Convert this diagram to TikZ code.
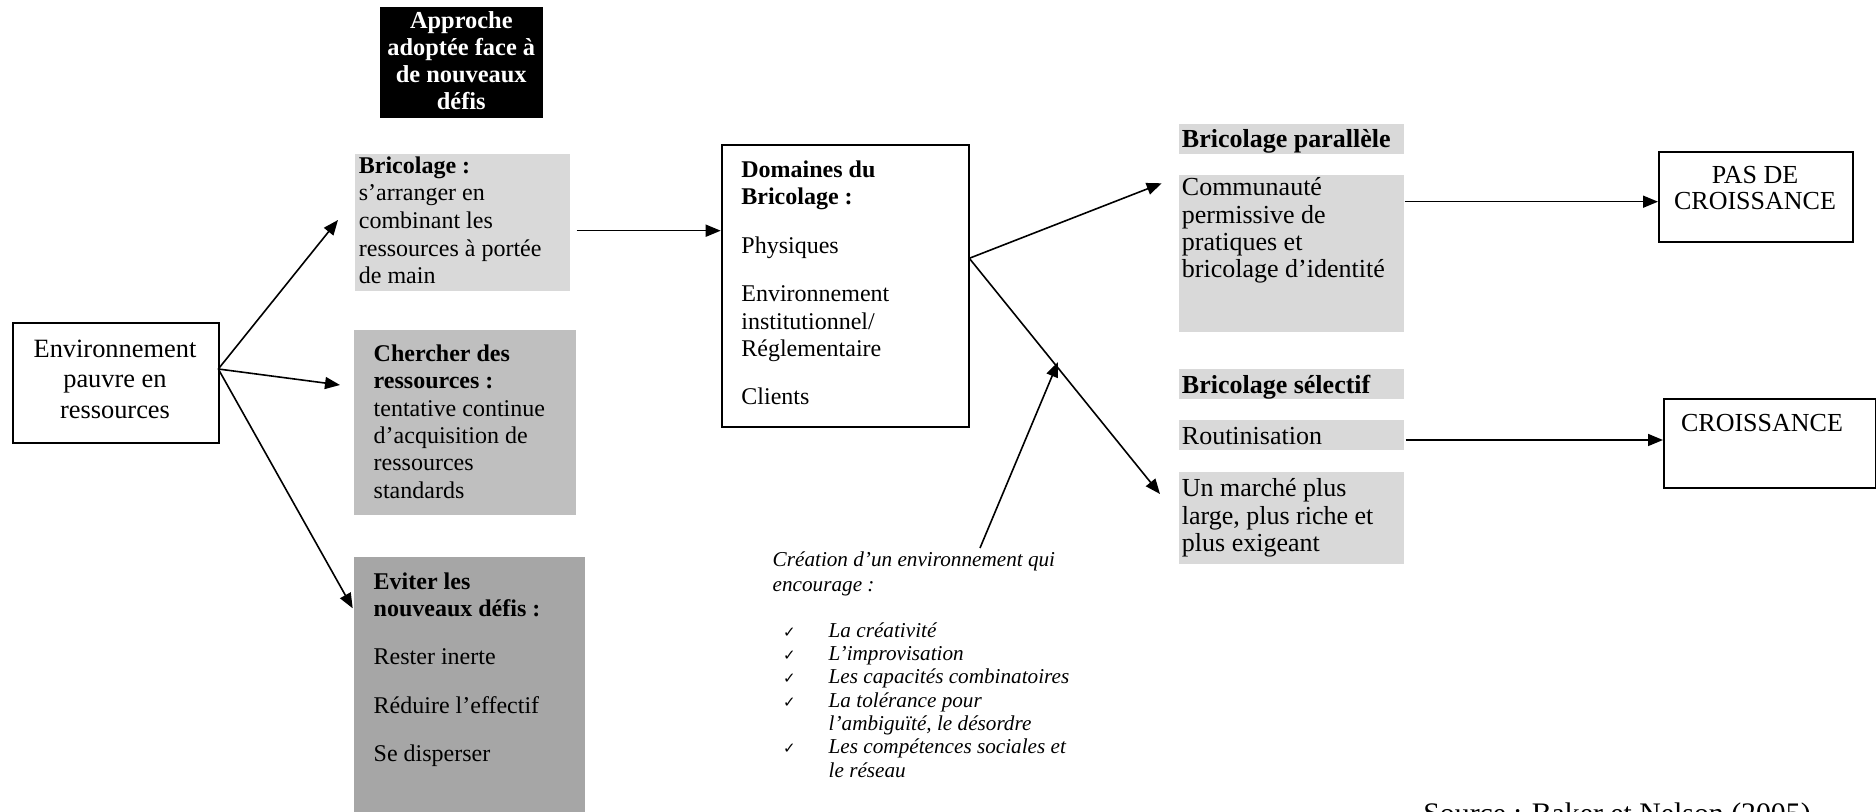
\documentclass[tikz,border=0pt]{standalone}
\usepackage{fontspec}
\setmainfont{Liberation Serif}
\newfontfamily\symfont{DejaVu Sans}
\usetikzlibrary{arrows.meta,calc}
\definecolor{gA}{HTML}{D9D9D9}
\definecolor{gB}{HTML}{BFBFBF}
\definecolor{gC}{HTML}{A6A6A6}
\begin{document}
\begin{tikzpicture}[x=0.5pt,y=-0.5pt,
  arr/.style={line width=0.8pt,-{Triangle[length=7.5pt,width=6pt]}},
  framebox/.style={draw,line width=1pt,fill=white,inner sep=0pt,anchor=north west},
  shadebox/.style={draw=none,inner sep=0pt,anchor=north west},
  medtxt/.style={font=\fontsize{12}{13.7}\selectfont,inner sep=0pt,align=left,anchor=base west},
  bigtxt/.style={font=\fontsize{13}{13.6}\selectfont,inner sep=0pt,align=left,anchor=base west},
  itxt/.style={font=\fontsize{10.6}{11.67}\selectfont\itshape,inner sep=0pt,align=left,anchor=base west}]
\useasboundingbox (0,0) rectangle (1876,812);
\clip (0,0) rectangle (1876,812);

% ---- boxes ----
\node[framebox,minimum width=103.3pt,minimum height=59.7pt] (env) at (11.7,322.3) {};
\node[shadebox,fill=black,minimum width=81.35pt,minimum height=55.3pt] (appr) at (380,6.7) {};
\node[shadebox,fill=gA,minimum width=107.85pt,minimum height=68.5pt] (bric) at (354.3,153.3) {};
\node[shadebox,fill=gB,minimum width=111pt,minimum height=92.85pt] (cher) at (354,329.3) {};
\node[shadebox,fill=gC,minimum width=115.5pt,minimum height=140pt] (evit) at (354,556.7) {};
\node[framebox,minimum width=123.8pt,minimum height=140.85pt] (dom) at (720.7,144) {};
\node[shadebox,fill=gA,minimum width=112.5pt,minimum height=15.35pt] (parh) at (1178.7,123.3) {};
\node[shadebox,fill=gA,minimum width=112.5pt,minimum height=78.35pt] (com) at (1178.7,175) {};
\node[shadebox,fill=gA,minimum width=112.5pt,minimum height=15pt] (selh) at (1178.7,368.3) {};
\node[shadebox,fill=gA,minimum width=112.5pt,minimum height=15pt] (rout) at (1178.7,420) {};
\node[shadebox,fill=gA,minimum width=112.5pt,minimum height=45.8pt] (marc) at (1178.7,471.7) {};
\node[framebox,minimum width=97pt,minimum height=45pt] (pas) at (1658,150.7) {};
\node[framebox,minimum width=105.75pt,minimum height=44.5pt] (croi) at (1663,397.7) {};

% ---- texts (base anchor = last line baseline) ----
\node[font=\fontsize{13.2}{15.25}\selectfont,inner sep=0pt,align=center,anchor=base] (envt) at (115,418.3)
  {Environnement\\pauvre en\\ressources};
\node[font=\fontsize{12.2}{13.5}\selectfont\bfseries,text=white,inner sep=0pt,align=center,anchor=base] (apprt) at (461.3,110)
  {Approche\\adoptée face à\\de nouveaux\\défis};
\node[medtxt,font=\fontsize{12}{13.85}\selectfont] (brict) at (358.5,284)
  {\textbf{Bricolage :}\\s’arranger en\\combinant les\\ressources à portée\\de main};
\node[medtxt] (chert) at (373.3,498.3)
  {\textbf{Chercher des}\\\textbf{ressources :}\\tentative continue\\d’acquisition de\\ressources\\standards};
\node[medtxt] (evitt) at (373.3,761.7)
  {\textbf{Eviter les}\\\textbf{nouveaux défis :}\\[10.5pt]Rester inerte\\[10.5pt]Réduire l’effectif\\[10.5pt]Se disperser};
\node[medtxt] (domt) at (741,405)
  {\textbf{Domaines du}\\\textbf{Bricolage :}\\[10.5pt]Physiques\\[10.5pt]Environnement\\institutionnel/\\Réglementaire\\[10.5pt]Clients};
\node[bigtxt,font=\fontsize{13}{13.6}\selectfont\bfseries] (parht) at (1181.5,148) {Bricolage parallèle};
\node[bigtxt] (comt) at (1181.5,277.5)
  {Communauté\\permissive de\\pratiques et\\bricolage d’identité};
\node[bigtxt,font=\fontsize{13}{13.6}\selectfont\bfseries] (selht) at (1181.5,393.3) {Bricolage sélectif};
\node[bigtxt] (routt) at (1181.5,445) {Routinisation};
\node[bigtxt] (marct) at (1181.5,551.3)
  {Un marché plus\\large, plus riche et\\plus exigeant};
\node[font=\fontsize{13}{13.35}\selectfont,inner sep=0pt,align=center,anchor=base] (past) at (1755,210)
  {PAS DE\\CROISSANCE};
\node[font=\fontsize{13}{13.35}\selectfont,inner sep=0pt,align=center,anchor=base] (croit) at (1762,431.7)
  {CROISSANCE};
\node[itxt,font=\fontsize{10.6}{12.5}\selectfont\itshape] (creat) at (772.3,591.7)
  {Création d’un environnement qui\\encourage :};
\node[font=\fontsize{7.5}{11.67}\selectfont\symfont,inner sep=0pt,align=left,anchor=base west] (checks) at (782.7,754)
  {✓\\✓\\✓\\✓\\[11.67pt]✓};
\node[itxt] (listt) at (828.3,777.3)
  {La créativité\\L’improvisation\\Les capacités combinatoires\\La tolérance pour\\l’ambiguïté, le désordre\\Les compétences sociales et\\le réseau};
\node[font=\fontsize{14.9}{16}\selectfont,inner sep=0pt,anchor=base west] (src) at (1423,823)
  {Source : Baker et Nelson (2005)};

% ---- connectors ----
\coordinate (envout) at (218.3,369);
\coordinate (tipbric) at (338,220);
\coordinate (tipcher) at (340,385);
\coordinate (tipevit) at (352.7,608.3);
\draw[arr] (envout) -- (tipbric);
\draw[arr] (envout) -- (tipcher);
\draw[arr] (envout) -- (tipevit);

\coordinate (bricout) at (576.7,230.7);
\draw[arr] (bricout) -- (bricout -| dom.west);

\coordinate (domout) at (969.3,258.3);
\coordinate (tippar) at (1161.7,183.3);
\coordinate (tipsel) at (1160,494);
\draw[arr] (domout) -- (tippar);
\draw[arr] (domout) -- (tipsel);

\coordinate (creaout) at (980,548);
\coordinate (tipcrea) at (1058,362);
\draw[arr] (creaout) -- (tipcrea);

\coordinate (comout) at (1404.6,201.7);
\draw[arr] (comout) -- (comout -| pas.west);
\coordinate (routout) at (1405.6,440);
\draw[arr] (routout) -- (routout -| croi.west);
\end{tikzpicture}
\end{document}
